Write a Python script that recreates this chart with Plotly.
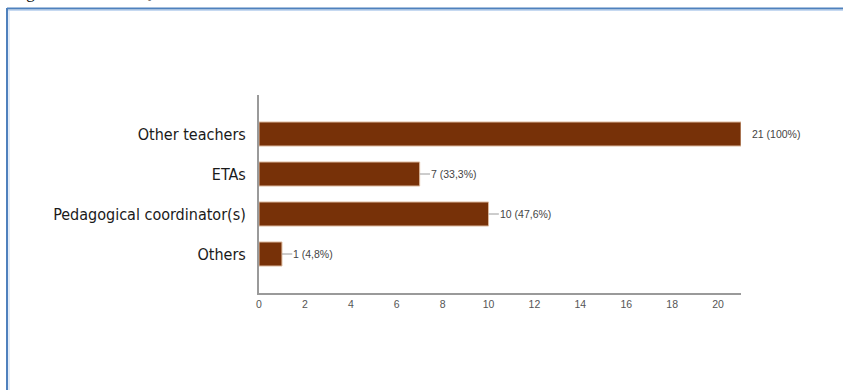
import plotly.graph_objects as go

categories = ["Other teachers", "ETAs", "Pedagogical coordinator(s)", "Others"]
counts = [21, 7, 10, 1]
percent_labels = ["21 (100%)", "7 (33,3%)", "10 (47,6%)", "1 (4,8%)"]
x_ticks = [0, 2, 4, 6, 8, 10, 12, 14, 16, 18, 20]

W, H = 843, 390
L, R, T, B = 259, 741, 95, 293

def px(x):
    return (x - L) / (R - L)

def py(y):
    return (B - y) / (B - T)

SMALL = "Liberation Sans, Arial, sans-serif"
CAT = "DejaVu Sans Condensed, DejaVu Sans, sans-serif"

fig = go.Figure()
fig.add_trace(go.Bar(
    y=categories, x=counts, orientation="h",
    marker=dict(color="#773108", line=dict(color="#dcb89c", width=1)),
    width=0.6, hoverinfo="skip",
))

annotations = []
shapes = []
for cat, v, lab in zip(categories, counts, percent_labels):
    if v < 21:
        shapes.append(dict(type="line", xref="x", yref="y", x0=v, x1=v + 0.45,
                           y0=cat, y1=cat, line=dict(color="#9a9a9a", width=1)))
        annotations.append(dict(x=v + 0.45, y=cat, xref="x", yref="y", text=lab,
                                showarrow=False, xanchor="left", xshift=-1,
                                font=dict(family=SMALL, size=10.5, color="#444444")))
    else:
        annotations.append(dict(x=v, y=cat, xref="x", yref="y", text=lab,
                                showarrow=False, xanchor="left", xshift=9,
                                font=dict(family=SMALL, size=10.5, color="#444444")))

# document frame
shapes.append(dict(type="line", xref="paper", yref="paper", x0=px(7), x1=px(850),
                   y0=py(8.5), y1=py(8.5), line=dict(color="#4f81bd", width=2)))
shapes.append(dict(type="line", xref="paper", yref="paper", x0=px(8), x1=px(850),
                   y0=py(10.5), y1=py(10.5), line=dict(color="#c6d9f1", width=1)))
shapes.append(dict(type="line", xref="paper", yref="paper", x0=px(7), x1=px(7),
                   y0=py(8), y1=py(400), line=dict(color="#4f81bd", width=2)))
shapes.append(dict(type="line", xref="paper", yref="paper", x0=px(9), x1=px(9),
                   y0=py(10), y1=py(400), line=dict(color="#c6d9f1", width=1)))

# caption cut off at the top edge of the picture
annotations.append(dict(x=px(10), y=py(4), xref="paper", yref="paper", text="Figure",
                        showarrow=False, xanchor="left", yanchor="bottom",
                        font=dict(family="Liberation Serif", size=17, color="#000000")))
annotations.append(dict(x=px(137), y=py(4), xref="paper", yref="paper", text="Q",
                        showarrow=False, xanchor="left", yanchor="bottom",
                        font=dict(family="Liberation Serif", size=17, color="#000000")))

fig.update_layout(
    width=W, height=H,
    margin=dict(l=L, r=W - R, t=T, b=H - B, pad=0),
    plot_bgcolor="white", paper_bgcolor="white",
    showlegend=False,
    annotations=annotations, shapes=shapes,
    xaxis=dict(range=[0, 21], tickvals=x_ticks, showgrid=False, zeroline=False,
               showline=True, linecolor="#9a9a9a", linewidth=2, ticks="",
               tickfont=dict(family=SMALL, size=10.5, color="#555555")),
    yaxis=dict(categoryorder="array", categoryarray=categories,
               range=[3.975, -0.975], showgrid=False, zeroline=False,
               showline=True, linecolor="#9a9a9a", linewidth=2, ticks="",
               ticklabelstandoff=8,
               tickfont=dict(family=CAT, size=16, color="#1a1a1a")),
)

fig.write_html("out.html")
